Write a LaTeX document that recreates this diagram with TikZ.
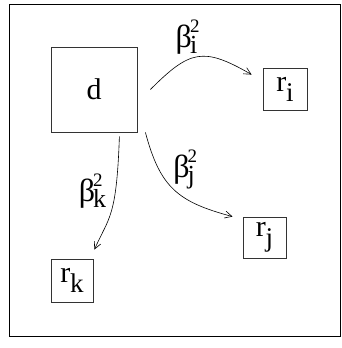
\documentclass[tikz,border=0pt]{standalone}
\usepackage{fontspec}
\setmainfont{Liberation Serif}
\usetikzlibrary{arrows.meta}

% r with a lowered index, and a weight beta with square and index
\newcommand{\rlab}[2]{#1\raisebox{-10pt}{\fontsize{27}{30}\selectfont #2}}
\newcommand{\wlab}[1]{{\fontsize{32}{34}\selectfont β}\kern-2pt\makebox[0pt][l]{\raisebox{15pt}{\fontsize{19}{21}\selectfont 2}}\raisebox{-6pt}{\fontsize{26}{28}\selectfont #1}}

\begin{document}
\begin{tikzpicture}
	[x=1pt,y=1pt,every node/.style={font=\fontsize{30}{34}\selectfont,inner sep=0pt},
	box/.style={draw=black!80,line width=0.8pt},
	link/.style={-{Straight Barb[length=7pt,width=7pt]},line width=0.6pt}]
	\useasboundingbox (0,0) rectangle (342,348);
	\draw[line width=0.9pt] (9,12) rectangle (340,344);
	
	\node[box,minimum width=86pt,minimum height=85pt] (d) at (94,258.5) {d};
	\node[box,minimum width=44pt,minimum height=42pt] (ri) at (285,259) {\rlab{r}{i}};
	\node[box,minimum width=43pt,minimum height=41pt] (rj) at (264.5,110.5) {\rlab{r}{j}};
	\node[box,minimum width=42pt,minimum height=43pt] (rk) at (72,67.5) {\rlab{r}{k}};
	
	\node (wi) at (186.5,311) {\wlab{i}};
	\node (wj) at (184,179) {\wlab{j}};
	\node (wk) at (92.5,156.5) {\wlab{k}};
	
	\draw[link] ([xshift=13pt]d.east) to[out=45,in=150,looseness=1.4] ([xshift=-11pt,yshift=-7pt]ri.north west);
	\draw[link] ([xshift=8pt]d.south east) to[out=-75,in=165,looseness=1.2] ([xshift=-10pt]rj.north west);
	\draw[link] ([xshift=-18pt,yshift=-4pt]d.south east) to[out=-92,in=66,out looseness=1.8,in looseness=0.8] ([xshift=1pt,yshift=9pt]rk.north east);
\end{tikzpicture}
\end{document}
